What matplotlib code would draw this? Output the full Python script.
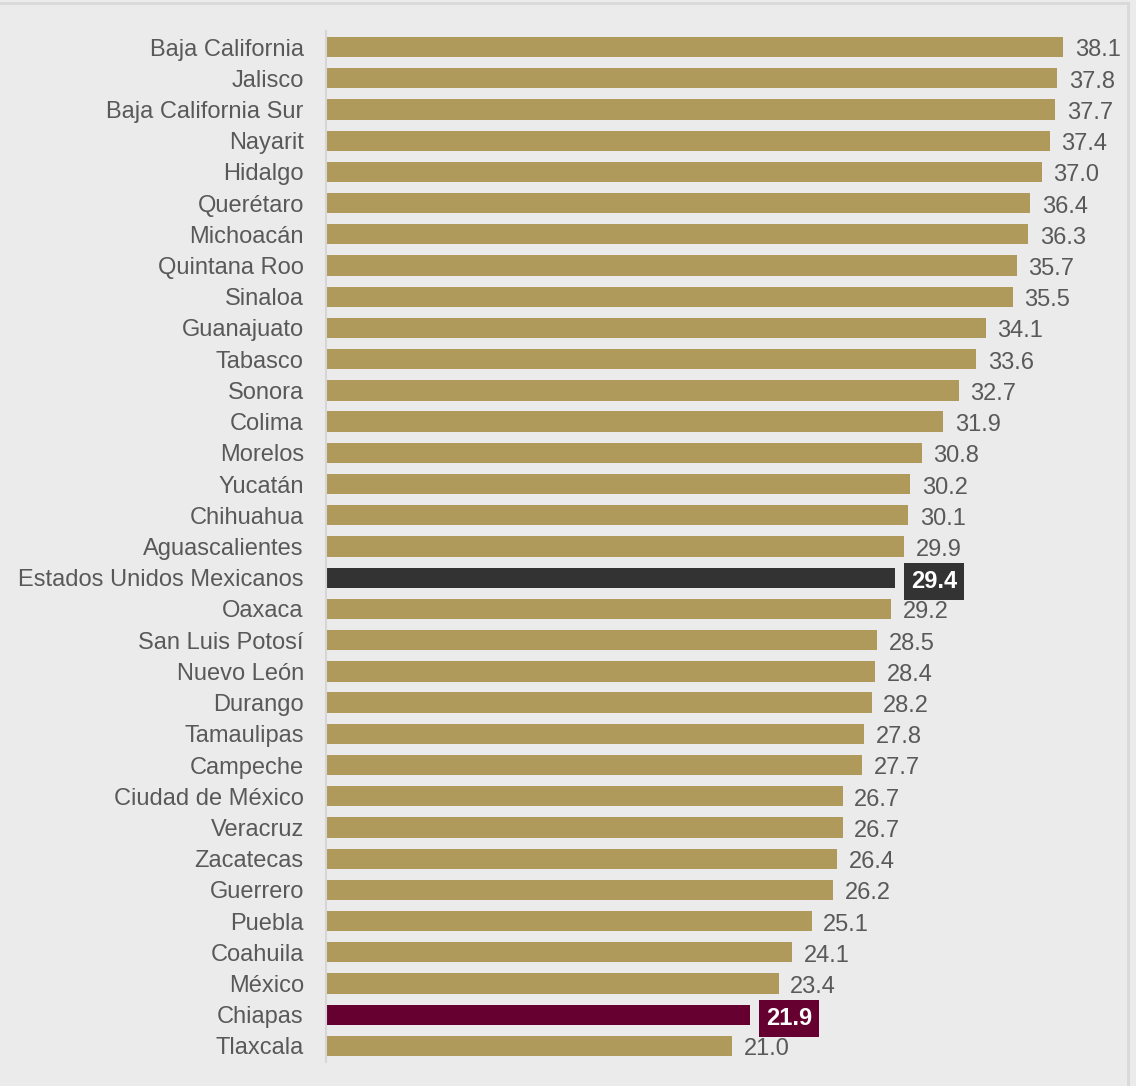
import matplotlib.pyplot as plt

# data, top to bottom
states = ['Baja California', 'Jalisco', 'Baja California Sur', 'Nayarit', 'Hidalgo',
          'Querétaro', 'Michoacán', 'Quintana Roo', 'Sinaloa', 'Guanajuato', 'Tabasco',
          'Sonora', 'Colima', 'Morelos', 'Yucatán', 'Chihuahua', 'Aguascalientes',
          'Estados Unidos Mexicanos', 'Oaxaca', 'San Luis Potosí', 'Nuevo León', 'Durango',
          'Tamaulipas', 'Campeche', 'Ciudad de México', 'Veracruz', 'Zacatecas', 'Guerrero',
          'Puebla', 'Coahuila', 'México', 'Chiapas', 'Tlaxcala']
values = [38.1, 37.8, 37.7, 37.4, 37.0, 36.4, 36.3, 35.7, 35.5, 34.1, 33.6,
          32.7, 31.9, 30.8, 30.2, 30.1, 29.9, 29.4, 29.2, 28.5, 28.4, 28.2,
          27.8, 27.7, 26.7, 26.7, 26.4, 26.2, 25.1, 24.1, 23.4, 21.9, 21.0]
highlight = {'Estados Unidos Mexicanos': '#333333', 'Chiapas': '#650030'}

gold = '#b09a5b'
bg = '#ebebeb'
txt = '#595959'

plt.rcParams['font.family'] = ['Liberation Sans', 'DejaVu Sans']

fig = plt.figure(figsize=(11.36, 10.86), dpi=100, facecolor=bg)
ax = fig.add_axes([326 / 1136, 1 - 1061.6 / 1086, 771 / 1136, 1030.2 / 1086])
ax.set_facecolor(bg)

pos = list(range(len(states)))
colors = [highlight.get(s, gold) for s in states]
ax.barh(pos, values, height=0.65, color=colors)

for p, s, v in zip(pos, states, values):
    if s in highlight:
        ax.text(v + 0.85, p + 0.03, f'{v:.1f}', va='center_baseline', ha='left', fontsize=17,
                color='white', fontweight='bold',
                bbox=dict(boxstyle='square,pad=0.3', fc=highlight[s], ec='none'))
    else:
        ax.text(v + 0.6, p + 0.03, f'{v:.1f}', va='center_baseline', ha='left', fontsize=17,
                color=txt)

ax.set_xlim(0, 39.85)
ax.set_ylim(32.5, -0.5)
ax.set_yticks(pos)
ax.set_yticklabels(states, fontsize=17, color=txt)
ax.tick_params(axis='y', length=0, pad=16)
ax.set_xticks([])
for side in ['top', 'right', 'bottom']:
    ax.spines[side].set_visible(False)
ax.spines['left'].set_color('#d6d6d6')
ax.spines['left'].set_linewidth(1.5)

# outer frame lines
fig.add_artist(plt.Line2D([0, 1128 / 1136], [1 - 3 / 1086] * 2, color='#d9d9d9', lw=2,
                          transform=fig.transFigure))
fig.add_artist(plt.Line2D([1128 / 1136] * 2, [1 - 3 / 1086, 0], color='#d9d9d9', lw=2,
                          transform=fig.transFigure))

fig.savefig('out.png', dpi=100, facecolor=bg)
